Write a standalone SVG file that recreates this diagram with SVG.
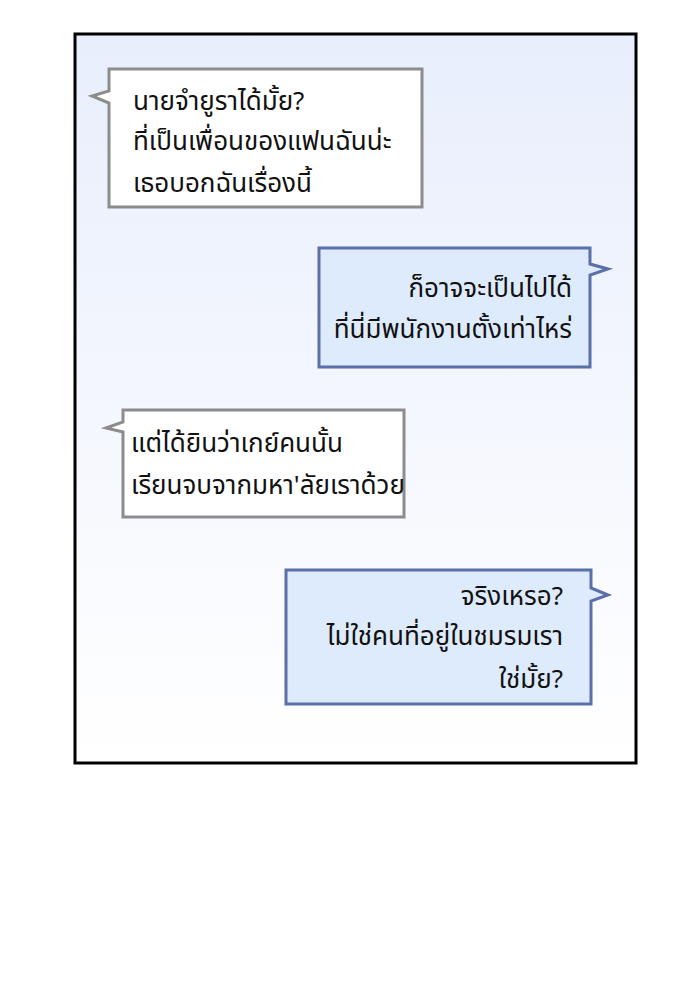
<svg xmlns="http://www.w3.org/2000/svg" width="690" height="1000" viewBox="0 0 690 1000">
<defs>
<linearGradient id="bg" x1="0" y1="0" x2="0" y2="1">
<stop offset="0" stop-color="#e8eefc"/><stop offset="1" stop-color="#ffffff"/>
</linearGradient>
<style>
.l{fill:#fff;stroke:#8c8c8c;stroke-width:3}
.r{fill:#deebfc;stroke:#5b6fa8;stroke-width:3}
text{font-family:"Noto Sans Thai","Noto Sans","DejaVu Sans",sans-serif;font-size:26px;fill:#111}
.e{text-anchor:end}
</style>
</defs>
<rect width="690" height="1000" fill="#fff"/>
<rect x="75" y="34" width="561" height="729" fill="url(#bg)" stroke="#000" stroke-width="3"/>
<g id="b1"><path class="l" d="M109 69H422V207H109V103L92 96L109 91Z"/>
<text x="133" y="110">นายจำยูราได้มั้ย?</text><text x="133" y="150">ที่เป็นเพื่อนของแฟนฉันน่ะ</text><text x="133" y="192">เธอบอกฉันเรื่องนี้</text></g>
<g id="b2"><path class="r" d="M319 248H590V264L608 269L590 275V367H319Z"/>
<text class="e" x="572" y="297">ก็อาจจะเป็นไปได้</text><text class="e" x="572" y="338">ที่นี่มีพนักงานตั้งเท่าไหร่</text></g>
<g id="b3"><path class="l" d="M123 410H404V517H123V432L106 428L123 422Z"/>
<text x="131" y="452">แต่ได้ยินว่าเกย์คนนั้น</text><text x="131" y="494">เรียนจบจากมหา'ลัยเราด้วย</text></g>
<g id="b4"><path class="r" d="M286 570H591V588L608 595L591 601V704H286Z"/>
<text class="e" x="563" y="605">จริงเหรอ?</text><text class="e" x="563" y="645">ไม่ใช่คนที่อยู่ในชมรมเรา</text><text class="e" x="563" y="688">ใช่มั้ย?</text></g>
<g id="connectors"/>
</svg>
